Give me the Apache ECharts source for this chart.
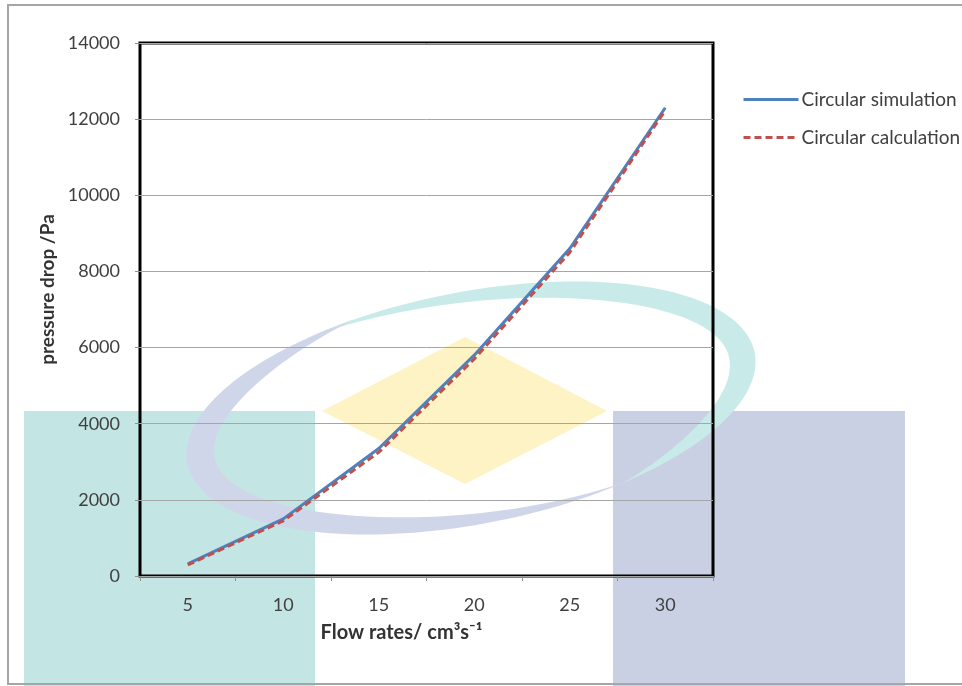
<!DOCTYPE html>
<html><head><meta charset="utf-8">
<script src="https://cdn.jsdelivr.net/npm/echarts@6/dist/echarts.min.js"></script>
<style>html,body{margin:0;padding:0;background:#fff}#c{width:962px;height:686px}</style>
</head><body><div id="c"></div>
<script>
// ---- data ----
const categories = ['5', '10', '15', '20', '25', '30'];
const simulation = [320, 1500, 3350, 5800, 8600, 12300];
const calculation = [290, 1450, 3250, 5700, 8500, 12230];
const seriesNames = ['Circular simulation', 'Circular calculation'];
const yMin = 0, yMax = 14000, yInterval = 2000;
const xTitle = 'Flow rates/ cm\u00B3s\u207B\u00B9';
const yTitle = 'pressure drop /Pa';

// ---- background watermark (decoration) ----
const EC = {cx: 471, cy: 408, a: 289, b: 116, rot: -11 * Math.PI / 180};
function crescent(t0, tp, t1, wmax, color) {
  const c = Math.cos(EC.rot), s = Math.sin(EC.rot);
  const pt = (t, w) => {
    const r = t * Math.PI / 180;
    const lx = (EC.a - w) * Math.cos(r), ly = (EC.b - w) * Math.sin(r);
    return [EC.cx + lx * c - ly * s, EC.cy + lx * s + ly * c];
  };
  const width = t => {
    const u = t < tp ? (t - t0) / (tp - t0) * 0.5 : 0.5 + (t - tp) / (t1 - tp) * 0.5;
    return wmax * Math.sin(Math.PI * u);
  };
  const outer = [], inner = [];
  for (let t = t0; t <= t1; t += 2) { outer.push(pt(t, 0)); inner.push(pt(t, width(t))); }
  return {type: 'polygon', z: -10, silent: true, shape: {points: outer.concat(inner.reverse())}, style: {fill: color}};
}

const chart = echarts.init(document.getElementById('c'), null, {renderer: 'canvas'});
const font = 'Lato, "Liberation Sans", sans-serif';
chart.setOption({
  backgroundColor: '#ffffff',
  animation: false,
  textStyle: {fontFamily: font},
  graphic: [
    {type: 'rect', z: -10, silent: true, shape: {x: 24, y: 411, width: 291, height: 275}, style: {fill: '#c3e6e5'}},
    {type: 'rect', z: -10, silent: true, shape: {x: 613, y: 411, width: 292, height: 275}, style: {fill: '#c9d0e3'}},
    {type: 'polygon', z: -10, silent: true, shape: {points: [[465, 337], [607, 411], [465, 484], [322, 411]]}, style: {fill: '#fdf3c4'}},
    crescent(-120, 0, 62, 26, '#c8eae8'),
    crescent(62, 180, 250, 28, '#d0d6ea'),
    {type: 'rect', z: 100, silent: true, shape: {x: 8, y: 5, width: 1000, height: 679}, style: {fill: 'none', stroke: '#a6a6a6', lineWidth: 2}}
  ],
  grid: {left: 140, top: 43, width: 573, height: 533, show: true, borderColor: '#000', borderWidth: 3, backgroundColor: 'transparent'},
  legend: {
    orient: 'vertical', left: 742, top: 90, padding: 0, itemWidth: 55, itemHeight: 14, itemGap: 19,
    data: seriesNames,
    itemStyle: {opacity: 0},
    lineStyle: {width: 3},
    textStyle: {fontSize: 19, color: '#404040', fontFamily: font, padding: [0, 0, 0, -2]}
  },
  xAxis: {
    type: 'category', data: categories, boundaryGap: true,
    axisLine: {show: false},
    axisTick: {show: true, length: 5, lineStyle: {color: '#909090'}},
    axisLabel: {fontSize: 18, color: '#404040', margin: 20, fontFamily: font},
    name: xTitle, nameLocation: 'middle', nameGap: 47,
    nameTextStyle: {fontSize: 20, fontWeight: 'bold', color: '#333', padding: [0, 50, 0, 0], fontFamily: font}
  },
  yAxis: {
    type: 'value', min: yMin, max: yMax, interval: yInterval,
    axisLine: {show: false},
    axisTick: {show: true, length: 5, lineStyle: {color: '#909090'}},
    axisLabel: {fontSize: 18, color: '#404040', margin: 20, fontFamily: font, formatter: v => String(v)},
    splitLine: {lineStyle: {color: '#a6a6a6', width: 1}},
    name: yTitle, nameLocation: 'middle', nameGap: 76,
    nameTextStyle: {fontSize: 19, fontWeight: 'bold', color: '#333', padding: [0, 0, 0, 40], fontFamily: font}
  },
  series: [
    {name: seriesNames[0], type: 'line', data: simulation, symbol: 'none', z: 3,
     lineStyle: {color: '#4f81bd', width: 3}, itemStyle: {color: '#4f81bd'}},
    {name: seriesNames[1], type: 'line', data: calculation, symbol: 'none', z: 4,
     lineStyle: {color: '#c0504d', width: 3, type: [7, 4]}, itemStyle: {color: '#c0504d'}}
  ]
});
</script></body></html>
